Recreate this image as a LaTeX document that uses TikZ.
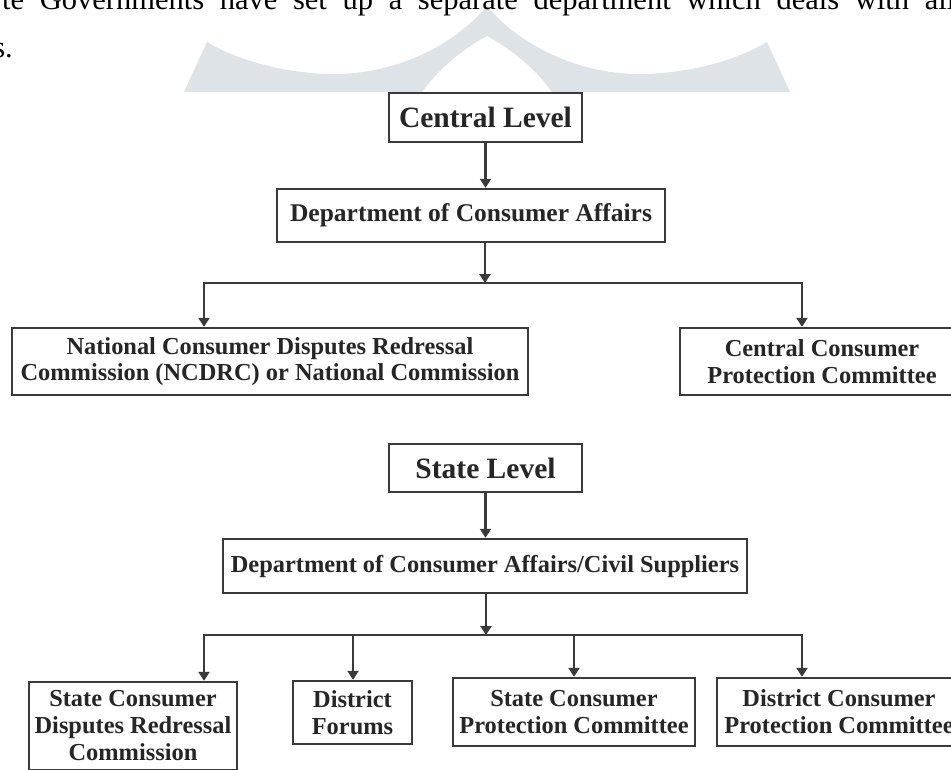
\documentclass[tikz,border=0pt]{standalone}
\usepackage{fontspec}
\setmainfont{Liberation Serif}
\usetikzlibrary{arrows.meta}
\definecolor{wm}{RGB}{222,227,231}
\definecolor{ln}{RGB}{58,58,58}
\definecolor{tx}{RGB}{38,38,38}
\begin{document}
\begin{tikzpicture}[x=1pt,y=-1pt,
  box/.style={draw=ln,line width=2.4pt,fill=white,inner sep=0pt,align=center,text=tx,
    font=\bfseries\fontsize{24.4}{26.5}\selectfont},
  bigbox/.style={box,font=\bfseries\fontsize{29.5}{32}\selectfont},
  arr/.style={draw=ln,line width=2.4pt,-{Triangle[length=9pt,width=11pt]}},
  arrtwo/.style={draw=ln,line width=2.4pt,line join=miter,{Triangle[length=9pt,width=11pt]}-{Triangle[length=9pt,width=11pt]}},
  bodytext/.style={inner sep=0pt,text=black,font=\fontsize{30.5}{36}\selectfont}
]
\useasboundingbox (0,0) rectangle (951,769);
\clip (0,0) rectangle (951,769);
\fill[white] (0,0) rectangle (951,769);

% watermark
\fill[wm] (207,42) .. controls (240,62) and (290,74) .. (335,74)
  .. controls (390,74) and (450,50) .. (487,6)
  .. controls (524,50) and (584,74) .. (639,74)
  .. controls (684,74) and (734,62) .. (767,42)
  -- (790,92) -- (552,92)
  .. controls (530,62) and (505,46) .. (487,36)
  .. controls (469,46) and (444,62) .. (422,92)
  -- (184,92) -- cycle;

% text above
\node[bodytext,anchor=base west] (t1) at (2,9)
  {\makebox[953pt][s]{te Governments have set up a separate department which deals with all}};
\node[bodytext,anchor=base east] (t2) at (13,57) {s.};

% central level
\node[bigbox,minimum width=193pt,minimum height=49pt] (cl) at (485.5,117.5) {Central Level};
\node[box,font=\bfseries\fontsize{25.5}{27}\selectfont,minimum width=388pt,minimum height=53pt] (dept) at (471,215.5) {Department of Consumer Affairs};
\node[box,minimum width=516pt,minimum height=67pt] (ncdrc) at (270,361.5)
  {National Consumer Disputes Redressal\\Commission (NCDRC) or National Commission};
\node[box,minimum width=284pt,minimum height=67pt] (ccpc) at (822,361.5)
  {Central Consumer\\Protection Committee};

\coordinate (j1) at (485,283);
\coordinate (a1) at (204,283);
\coordinate (a2) at (802,283);
\draw[arr] (cl.south) -- (cl.south |- dept.north);
\draw[arr] (dept.south -| j1) -- (j1);
\draw[arrtwo] (ncdrc.north -| a1) -- (a1) -- (a2) -- (ccpc.north -| a2);

% state level
\node[bigbox,minimum width=193pt,minimum height=48pt] (sl) at (485.5,468) {State Level};
\node[box,minimum width=524pt,minimum height=54pt] (dcs) at (485,566)
  {Department of Consumer Affairs/Civil Suppliers};
\node[box,minimum width=208pt,minimum height=88pt,font=\bfseries\fontsize{24.4}{27}\selectfont] (scdrc) at (133,726)
  {State Consumer\\Disputes Redressal\\Commission};
\node[box,minimum width=119pt,minimum height=63pt,font=\bfseries\fontsize{24.4}{27}\selectfont] (df) at (352.5,712.5) {District\\Forums};
\node[box,minimum width=242pt,minimum height=68pt,font=\bfseries\fontsize{24.4}{27}\selectfont] (scpc) at (574,712) {State Consumer\\Protection Committee};
\node[box,minimum width=244pt,minimum height=68pt,font=\bfseries\fontsize{24.4}{27}\selectfont] (dcpc) at (839,712) {District Consumer\\Protection Committee};

\coordinate (j2) at (486,635);
\coordinate (b1) at (204,635);
\coordinate (b2) at (353,635);
\coordinate (b3) at (574,635);
\coordinate (b4) at (802,635);
\draw[arr] (sl.south) -- (sl.south |- dcs.north);
\draw[arr] (dcs.south -| j2) -- (j2);
\draw[arrtwo] (scdrc.north -| b1) -- (b1) -- (b4) -- (dcpc.north -| b4);
\draw[arr] (b2) -- (b2 |- df.north);
\draw[arr] (b3) -- (b3 |- scpc.north);
\end{tikzpicture}
\end{document}
